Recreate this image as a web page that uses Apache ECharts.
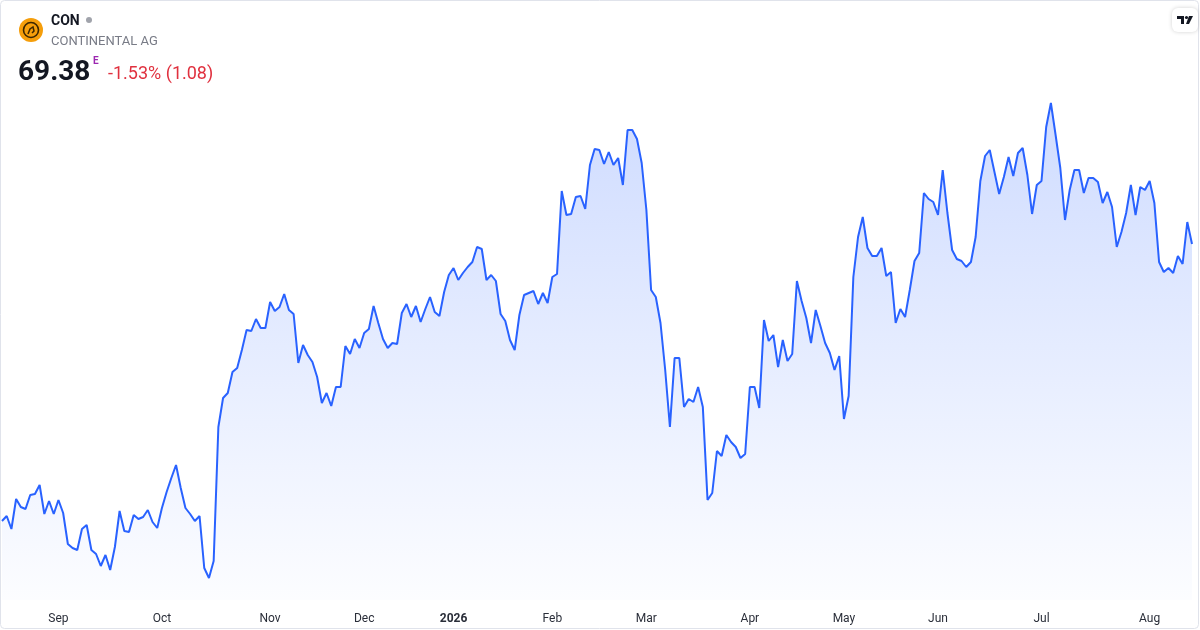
<!DOCTYPE html>
<html>
<head>
<meta charset="utf-8">
<script src="https://cdn.jsdelivr.net/npm/echarts@6/dist/echarts.min.js"></script>
<style>
html,body{margin:0;padding:0;background:#fff;}
#c{width:1200px;height:630px;}
</style>
</head>
<body>
<div id="c"></div>
<script>
// Month labels and number of trading days shown in each month (Aug 2025 .. Aug 2026)
const monthNames = ['Aug','Sep','Oct','Nov','Dec','2026','Feb','Mar','Apr','May','Jun','Jul','Aug'];
const monthTradingDays = [12,22,23,20,19,21,20,22,20,20,22,23,10];

// Daily closing prices (EUR)
const pricesAugSep = [55.53,55.78,55.13,56.63,56.23,56.13,56.83,56.88,57.33,55.88,56.53,55.88,
  56.58,55.93,54.38,54.18,54.08,55.13,55.33,54.08,53.88,53.28,53.83,53.08,54.23,56.03,55.03,54.98,55.83,55.63,55.73,56.08,55.48,55.18];
const pricesOct = [56.18,56.98,57.68,58.33,57.18,56.18,55.88,55.53,55.78,53.18,52.68,53.53,60.23,61.68,61.93,62.98,63.18,64.08,65.08,65.03,65.63,65.18,65.18];
const pricesNov = [66.48,66.03,66.23,66.88,66.08,65.88,63.43,64.33,63.83,63.48,62.73,61.43,61.93,61.28,62.23,62.23,64.28,63.88,64.63,64.18];
const pricesDec = [64.93,65.13,66.28,65.43,64.63,64.18,64.43,64.38,65.93,66.38,65.73,66.28,65.48,66.13,66.73,65.98,65.78,66.98,67.83];
const pricesJan = [68.18,67.58,67.93,68.23,68.48,69.23,69.13,67.58,67.83,67.53,65.88,65.53,64.58,64.08,65.83,66.83,66.93,67.03,66.38,66.93,66.43];
const pricesFeb = [67.73,67.88,72.03,70.83,70.88,71.73,71.78,71.13,73.33,74.13,74.08,73.38,73.98,73.33,73.68,72.33,75.08,75.08,74.63,73.43];
const pricesMar = [71.08,67.08,66.73,65.43,63.08,60.23,63.68,63.68,61.23,61.63,61.48,62.23,61.23,56.58,56.93,59.03,58.78,59.83,59.48,59.23,58.68,58.88];
const pricesApr = [62.23,62.23,61.18,65.58,64.53,64.83,63.23,64.58,63.53,63.88,67.53,66.53,65.68,64.43,66.08,65.28,64.43,63.93,63.08,63.78];
const pricesMay = [60.63,61.78,67.73,69.73,70.73,69.18,68.78,68.78,69.18,67.78,67.98,65.43,66.13,65.73,67.08,68.53,68.93,71.93,71.63,71.48];
const pricesJun = [70.83,73.08,70.93,69.08,68.63,68.53,68.23,68.48,69.73,72.53,73.78,74.08,72.98,71.88,72.73,73.73,72.78,73.93,74.18,72.83,70.88,72.33];
const pricesJul = [72.53,75.23,76.43,74.83,73.18,70.58,72.08,73.08,73.08,71.93,72.68,72.68,72.48,71.43,71.98,71.23,69.23,69.98,70.93,72.33,70.83,72.23,72.08];
const pricesAug = [72.53,71.43,68.48,67.98,68.18,67.93,68.78,68.38,70.48,69.38];

const prices = [].concat(pricesAugSep, pricesOct, pricesNov, pricesDec, pricesJan, pricesFeb,
  pricesMar, pricesApr, pricesMay, pricesJun, pricesJul, pricesAug);

// Build category list: one entry per trading day
const categories = [];
const monthStartIdx = {};
monthTradingDays.forEach((n, m) => {
  if (m > 0) monthStartIdx[categories.length] = monthNames[m];
  for (let d = 0; d < n; d++) categories.push(m + ':' + d);
});

const chart = echarts.init(document.getElementById('c'), null, {renderer: 'canvas'});
const FONT = 'Roboto, "Noto Sans", sans-serif';

chart.setOption({
  animation: false,
  backgroundColor: '#ffffff',
  grid: {left: 2, right: 8, top: 80, bottom: 30, containLabel: false},
  xAxis: {
    type: 'category',
    data: categories,
    boundaryGap: false,
    axisLine: {show: false},
    axisTick: {show: false},
    splitLine: {show: false},
    axisLabel: {
      interval: (idx) => monthStartIdx[idx] !== undefined,
      margin: 13,
      hideOverlap: false,
      color: '#2a2e39',
      fontFamily: FONT,
      fontSize: 12,
      formatter: (v, idx) => {
        const t = monthStartIdx[idx];
        if (t === undefined) return '';
        return t === '2026' ? '{b|2026}' : t;
      },
      rich: {b: {fontWeight: 'bold', fontSize: 12, color: '#2a2e39', fontFamily: FONT}}
    }
  },
  yAxis: {
    type: 'value',
    min: 51.58,
    max: 77.58,
    show: false,
    splitLine: {show: false}
  },
  series: [{
    type: 'line',
    data: prices,
    symbol: 'none',
    smooth: false,
    lineStyle: {color: '#2962ff', width: 2},
    areaStyle: {
      origin: 'start',
      color: new echarts.graphic.LinearGradient(0, 0, 0, 1, [
        {offset: 0, color: 'rgba(41,98,255,0.32)'},
        {offset: 1, color: 'rgba(41,98,255,0.02)'}
      ])
    }
  }],
  graphic: [
    // outer border
    {type: 'rect', shape: {x: 0.5, y: 0.5, width: 1198, height: 628, r: 4},
     style: {fill: 'none', stroke: '#e0e3eb', lineWidth: 1}, silent: true, z: 100},
    // logo
    {type: 'circle', shape: {cx: 31, cy: 30, r: 12}, style: {fill: '#f59e0b'}, z: 100},
    {type: 'circle', shape: {cx: 31, cy: 30, r: 7.5}, style: {fill: 'none', stroke: '#3b2600', lineWidth: 1.6}, z: 101},
    {type: 'polyline', shape: {points: [[28,34],[30,29],[33,27],[34,31],[32,33]]},
     style: {stroke: '#3b2600', lineWidth: 1.5, fill: 'none'}, z: 101},
    // ticker
    {type: 'text', left: 51, top: 14, style: {text: 'CON', font: 'bold 14px ' + FONT, fill: '#131722'}, z: 100},
    {type: 'circle', shape: {cx: 89, cy: 20, r: 3}, style: {fill: '#a0a3ab'}, z: 100},
    {type: 'text', left: 51, top: 35, style: {text: 'CONTINENTAL AG', font: '13px ' + FONT, fill: '#787b86', letterSpacing: 0.2}, z: 100},
    // price
    {type: 'text', left: 18, top: 59, style: {text: '69.38', font: 'bold 28px ' + FONT, fill: '#131722'}, z: 100},
    {type: 'text', left: 93, top: 56, style: {text: 'E', font: 'bold 10px ' + FONT, fill: '#9c27b0'}, z: 100},
    {type: 'text', left: 108, top: 65, style: {text: '-1.53% (1.08)', font: '18px ' + FONT, fill: '#e0313f'}, z: 100},
    // TradingView badge
    {type: 'rect', shape: {x: 1172, y: 8, width: 26, height: 24, r: 6},
     style: {fill: '#ffffff', shadowBlur: 4, shadowColor: 'rgba(0,0,0,0.18)'}, z: 100},
    {type: 'polygon', shape: {points: [[1177,16],[1184,16],[1184,24],[1181,24],[1181,19],[1177,19]]},
     style: {fill: '#131722'}, z: 101},
    {type: 'circle', shape: {cx: 1186.5, cy: 17.5, r: 1.6}, style: {fill: '#131722'}, z: 101},
    {type: 'polygon', shape: {points: [[1189,16],[1193,16],[1189,24],[1186,24]]},
     style: {fill: '#131722'}, z: 101}
  ]
});
</script>
</body>
</html>
